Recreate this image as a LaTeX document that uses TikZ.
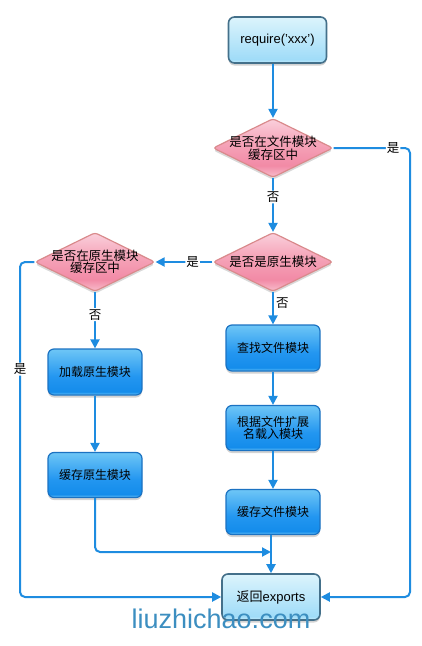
\documentclass[tikz,border=0pt]{standalone}
\usepackage{fontspec}
\setmainfont{Liberation Sans}
\newfontfamily\cjk{Noto Sans CJK SC}
\usetikzlibrary{shapes.geometric,arrows.meta,shadows}
\definecolor{linec}{HTML}{1E8CE0}
\definecolor{bluebd}{HTML}{1B72C2}
\definecolor{lightbd}{HTML}{44708A}
\definecolor{pinkbd}{HTML}{D98A8C}
\definecolor{wm}{HTML}{3C8EC0}
\definecolor{bA}{HTML}{6EC8FA}
\definecolor{bB}{HTML}{148CEB}
\definecolor{bC}{HTML}{2396F0}
\definecolor{bD}{HTML}{6EC6F6}
\definecolor{lA}{HTML}{C8EEFC}
\definecolor{lB}{HTML}{A0DCF8}
\definecolor{lC}{HTML}{DCF4FC}
\definecolor{pA}{HTML}{F8BECD}
\definecolor{pB}{HTML}{F28AA6}
\definecolor{pC}{HTML}{F5A5B9}
\definecolor{pD}{HTML}{FAD0DC}
\pgfdeclareverticalshading{blueshade}{100bp}{%
  color(0bp)=(bA); color(25bp)=(bA); color(28.5bp)=(bB);
  color(45bp)=(bC); color(75bp)=(bD); color(100bp)=(bD)}
\pgfdeclareverticalshading{lightshade}{100bp}{%
  color(0bp)=(lA); color(25bp)=(lA); color(29bp)=(lB);
  color(75bp)=(lC); color(100bp)=(lC)}
\pgfdeclareverticalshading{pinkshade}{100bp}{%
  color(0bp)=(pA); color(25bp)=(pA); color(35bp)=(pB);
  color(55bp)=(pC); color(75bp)=(pD); color(100bp)=(pD)}
\tikzset{
  bluebox/.style={draw=bluebd, line width=1.2pt, rounded corners=6pt, shading=blueshade,
    minimum width=94pt, minimum height=46pt, inner sep=0pt, align=center,
    font=\cjk\fontsize{12}{12.5}\selectfont,
    drop shadow={opacity=0.35, shadow xshift=0pt, shadow yshift=-2.5pt}},
  lightbox/.style={draw=lightbd, line width=1.6pt, rounded corners=6pt, shading=lightshade,
    minimum width=98pt, minimum height=46pt, inner sep=0pt, align=center,
    font=\fontsize{13}{14}\selectfont,
    drop shadow={opacity=0.35, shadow xshift=0pt, shadow yshift=-2.5pt}},
  dia/.style={shape=diamond, draw=pinkbd, line width=1.2pt, rounded corners=3pt, shading=pinkshade,
    minimum width=120pt, minimum height=59pt, inner sep=0pt,
    drop shadow={opacity=0.3, shadow xshift=0pt, shadow yshift=-2.5pt}},
  dtext/.style={align=center, inner sep=0pt, font=\cjk\fontsize{12.5}{12.5}\selectfont},
  conn/.style={draw=linec, line width=2pt, rounded corners=5pt,
    -{Triangle[length=9pt,width=9pt]}},
  lbl/.style={font=\cjk\fontsize{12.5}{12.5}\selectfont, inner sep=1pt},
  lblw/.style={lbl, fill=white}
}
\begin{document}
\begin{tikzpicture}[x=1pt,y=1pt]
\useasboundingbox (0,0) rectangle (422,-646);
% nodes
\node[lightbox] (req) at (277.5,-40) {require('xxx')};
\node[dia, label={[dtext]center:{是否在文件模块\\缓存区中}}] (d1) at (273,-148) {};
\node[dia, label={[dtext]center:{是否是原生模块}}] (d2) at (273,-262) {};
\node[dia, label={[dtext]center:{是否在原生模块\\缓存区中}}] (d3) at (95,-262) {};
\node[bluebox] (find) at (273,-348) {查找文件模块};
\node[bluebox, minimum height=45pt] (loadf) at (273,-428) {根据文件扩展\\名载入模块};
\node[bluebox, minimum height=45pt] (cachef) at (273,-512) {缓存文件模块};
\node[bluebox] (loadn) at (95,-372) {加载原生模块};
\node[bluebox, minimum height=45pt] (cachen) at (95,-475) {缓存原生模块};
\node[lightbox] (ret) at (271,-597) {{\cjk 返回}exports};
\coordinate (rtop) at (410,-148);
\coordinate (ltop) at (20,-262);
\coordinate (cnb) at (95,-552);
% connectors
\draw[conn] (req.south -| d1.north) -- (d1.north);
\draw[conn] (d1.south) -- node[lblw, pos=0.35] {否} (d2.north);
\draw[conn] (d1.east) -- node[lblw, pos=0.78] {是} (rtop) |- (ret.east);
\draw[conn] (d2.west) -- node[lblw, pos=0.35] {是} (d3.east);
\draw[conn] (d2.south) -- node[lbl, right, pos=0.35, xshift=1pt] {否} (find.north);
\draw[conn] (d3.west) -- (ltop) |- node[lblw, pos=0.16] {是} (ret.west);
\draw[conn] (d3.south) -- node[lblw, pos=0.4] {否} (loadn.north);
\draw[conn] (loadn) -- (cachen);
\draw[conn] (find) -- (loadf);
\draw[conn] (loadf) -- (cachef);
\draw[conn] (cachef.south -| ret.north) -- (ret.north);
\draw[conn] (cachen.south) -- (cnb) -- (cnb -| ret.north);
% watermark
\node[text=wm, font=\fontsize{27}{27}\selectfont, inner sep=0pt, anchor=base] (wmk) at (221,-628) {liuzhichao.com};
\end{tikzpicture}
\end{document}
